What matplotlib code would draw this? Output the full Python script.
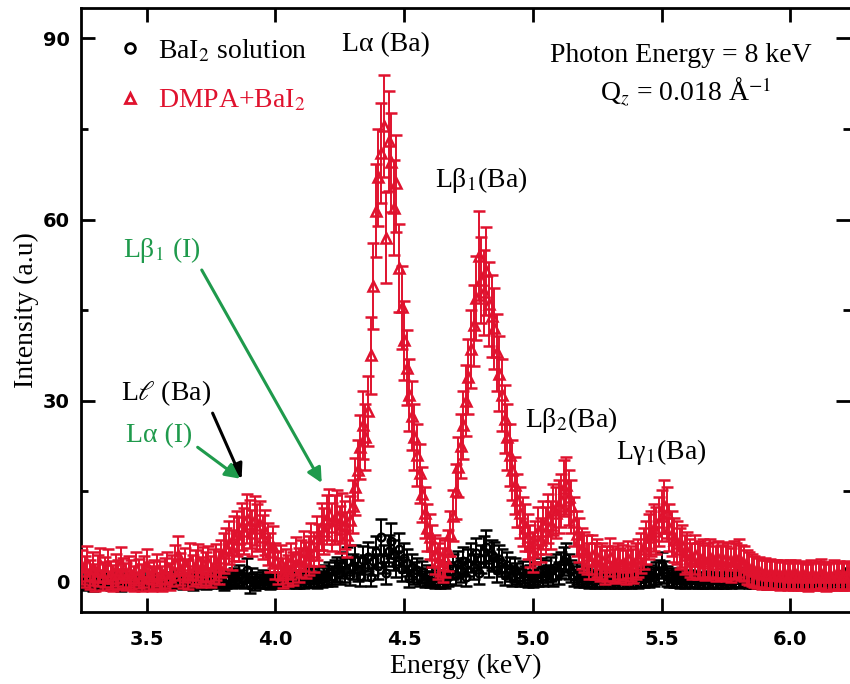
import matplotlib
matplotlib.use('Agg')
import matplotlib.pyplot as pl
from matplotlib.lines import Line2D
from matplotlib.ticker import MultipleLocator
import numpy as np

pl.rcParams['mathtext.fontset'] = 'stix'

# energy grid of the scan (keV), 0.01 keV step
energy = np.round(3.25 + 0.01 * np.arange(299), 2)

# DMPA+BaI2 (red triangles)
dmpa = [
    2.5, 1.8, 3.0, 1.2, 2.2, 0.8, 1.9, 2.8, 1.0, 1.6,
    2.6, 1.1, 0.7, 2.0, 1.3, 2.9, 1.5, 0.9, 1.8, 1.2,
    0.6, 2.2, 1.4, 0.8, 1.7, 2.6, 1.0, 0.5, 1.3, 2.0,
    1.1, 0.6, 1.5, 2.3, 0.9, 1.9, 3.2, 4.4, 2.1, 1.4,
    2.8, 1.2, 3.4, 1.9, 2.5, 3.3, 1.6, 2.9, 2.2, 3.1,
    1.8, 2.6, 3.3, 2.4, 3.9, 4.8, 5.6, 6.5, 5.3, 7.2,
    8.0, 7.1, 9.2, 8.4, 10.5, 9.6, 8.1, 10.2, 9.0, 9.5,
    7.4, 8.2, 6.3, 4.9, 5.8, 3.5, 2.4, 3.2, 1.5, 2.6,
    1.9, 3.4, 2.2, 4.3, 2.8, 3.9, 5.1, 3.6, 4.4, 6.2,
    5.0, 7.3, 6.1, 9.2, 8.4, 10.4, 11.2, 9.1, 10.3, 11.0,
    8.7, 10.6, 9.4, 7.8, 10.2, 12.5, 15.8, 18.6, 22.4, 26.0,
    24.0, 28.3, 37.5, 49.0, 61.5, 67.0, 71.0, 75.5, 57.0, 73.0,
    69.5, 62.0, 66.0, 52.0, 45.5, 40.0, 35.5, 31.0, 27.5, 24.0,
    21.0, 18.0, 14.5, 11.5, 9.0, 7.5, 6.0, 4.5, 3.5, 4.2,
    2.8, 3.9, 5.2, 8.0, 11.0, 15.0, 19.0, 22.5, 26.0, 30.0,
    34.0, 38.5, 42.5, 47.0, 54.0, 50.0, 48.0, 51.5, 46.0, 44.0,
    42.0, 38.0, 34.5, 31.0, 27.0, 24.0, 21.0, 18.5, 16.0, 13.5,
    11.5, 10.0, 9.0, 7.5, 6.0, 5.0, 6.5, 8.5, 7.0, 9.5,
    8.5, 10.5, 9.5, 12.0, 11.5, 12.5, 13.5, 15.5, 16.0, 14.0,
    12.5, 10.0, 8.0, 7.0, 5.5, 5.0, 4.5, 3.5, 4.5, 3.5,
    4.0, 3.0, 3.5, 2.5, 3.0, 4.2, 3.0, 2.6, 3.5, 2.8,
    3.2, 2.5, 3.8, 3.0, 2.6, 3.5, 4.0, 4.8, 5.5, 6.5,
    7.5, 8.0, 9.0, 8.5, 10.0, 11.0, 12.5, 11.5, 9.0, 8.0,
    7.0, 6.5, 5.5, 6.0, 4.5, 5.0, 4.0, 3.5, 4.5, 3.5,
    3.8, 4.0, 3.2, 3.5, 4.0, 3.6, 3.0, 3.8, 3.2, 3.6,
    3.0, 3.4, 2.8, 3.8, 3.5, 4.0, 3.2, 3.0, 2.5, 2.2,
    2.0, 1.8, 1.5, 1.6, 1.3, 1.5, 1.2, 1.4, 1.1, 1.3,
    1.2, 1.0, 1.3, 1.1, 0.9, 1.2, 1.0, 1.3, 1.0, 0.9,
    1.1, 1.0, 0.8, 1.2, 1.0, 0.9, 1.1, 1.4, 1.0, 0.8,
    1.0, 0.9, 1.2, 1.0, 1.1, 0.9, 1.0, 1.1, 1.0,
]

# BaI2 solution (black circles)
bai2 = [
    0.3, -0.2, 0.5, 0.1, -0.3, 0.4, 0.0, 0.2, -0.1, 0.3,
    0.1, -0.2, 0.4, 0.0, 0.2, -0.3, 0.1, 0.3, -0.1, 0.2,
    0.0, 0.3, -0.2, 0.1, 0.4, 0.0, -0.1, 0.2, 0.1, -0.2,
    0.3, 0.0, 0.2, -0.1, 0.1, 0.4, 0.0, 0.6, 0.2, -0.1,
    0.2, 0.0, 0.3, -0.2, 0.1, 0.5, 0.0, 0.2, -0.1, 0.3,
    0.1, 0.4, 0.0, 0.6, 0.2, -0.2, 0.3, 0.5, 0.1, 0.8,
    0.4, 1.2, 0.6, 0.3, 2.0, -0.5, 0.8, -0.2, 0.4, 0.2,
    0.6, 0.1, 0.3, -0.1, 0.2, 0.4, 0.0, 0.3, 0.1, 0.5,
    0.2, 0.0, 0.4, 0.1, 0.3, 0.6, 0.2, 0.5, 0.8, 0.4,
    0.7, 0.3, 0.9, 0.5, 1.2, 0.8, 1.5, 1.0, 1.8, 2.2,
    1.5, 2.8, 2.0, 3.5, 1.2, 2.5, 3.8, 2.2, 1.0, 3.6,
    2.4, 4.2, 0.8, 3.5, 5.0, 2.6, 7.5, 3.8, 1.5, 5.2,
    6.8, 4.5, 3.0, 5.5, 2.2, 4.0, 3.2, 0.6, 2.5, 1.5,
    2.0, 0.8, 1.6, 0.5, 1.2, 0.4, 0.9, 0.2, 0.6, 0.3,
    0.5, 0.2, 0.9, 1.5, 2.5, 1.2, 3.0, 2.0, 3.5, 0.8,
    3.2, 4.0, 2.5, 4.8, 1.5, 3.8, 5.0, 5.8, 3.0, 4.5,
    4.2, 2.0, 3.8, 3.2, 1.2, 2.8, 2.2, 1.0, 2.0, 1.4,
    0.8, 1.6, 1.0, 0.5, 1.2, 0.6, 1.5, 0.8, 2.0, 1.0,
    1.8, 1.2, 2.2, 0.8, 2.5, 1.5, 2.8, 3.5, 4.0, 2.5,
    1.8, 1.0, 1.4, 0.6, 1.0, 0.4, 0.8, 0.3, 0.6, 0.2,
    0.5, 0.3, 0.6, 0.2, 0.4, 0.1, 0.5, 0.3, 0.2, 0.4,
    0.1, 0.3, 0.5, 0.2, 0.4, 0.6, 0.3, 0.8, 0.5, 1.0,
    0.7, 1.2, 0.9, 1.5, 1.8, 2.8, 1.6, 1.0, 0.6, 0.8,
    0.4, 0.6, 0.3, 0.5, 0.2, 0.4, 0.6, 0.3, 0.5, 0.2,
    0.4, 0.1, 0.3, 0.5, 0.2, 0.4, 0.3, 0.1, 0.4, 0.2,
    0.3, 0.5, 0.2, 0.4, 0.6, 0.3, 0.5, 0.8, 0.4, 0.2,
    0.3, 0.1, 0.2, 0.0, 0.1, 0.2, -0.1, 0.1, 0.0, 0.2,
    0.1, -0.1, 0.0, 0.2, 0.1, 0.0, -0.1, 0.1, 0.2, 0.0,
    0.1, 0.0, 0.2, -0.1, 0.1, 0.0, 0.2, 0.1, 0.0, 0.1,
    0.2, 0.0, 0.1, 0.3, 0.2, 0.5, 1.5, 0.8, 0.4,
]

dmpa = np.array(dmpa)
bai2 = np.array(bai2)
# counting-statistics error bars
dmpa_err = 0.8 * np.sqrt(np.abs(dmpa)) + 1.5
bai2_err = 0.8 * np.sqrt(np.abs(bai2)) + 0.8

RED = '#e0122e'
GREEN = '#1f9a4c'
SERIF = ['Liberation Serif', 'DejaVu Serif']
FS = 20

fig = pl.figure(figsize=(8.5, 6.84), dpi=100)
ax = fig.add_axes([0.0953, 0.105, 0.905, 0.883])

ax.errorbar(energy, bai2, yerr=bai2_err, fmt='o', ms=5.5, mfc='none',
            mec='black', mew=1.8, ecolor='black', elinewidth=1.4,
            capsize=4, capthick=1.4, zorder=2)
ax.errorbar(energy, dmpa, yerr=dmpa_err, fmt='^', ms=6.5, mfc='none',
            mec=RED, mew=1.8, ecolor=RED, elinewidth=1.4,
            capsize=4.5, capthick=1.4, zorder=3)

ax.set_xlim(3.245, 6.233)
ax.set_ylim(-5, 95)
ax.xaxis.set_major_locator(MultipleLocator(0.5))
ax.yaxis.set_major_locator(MultipleLocator(30))
ax.yaxis.set_minor_locator(MultipleLocator(15))
ax.tick_params(which='both', direction='in', top=True, right=True, width=2)
ax.tick_params(which='major', length=10)
ax.tick_params(which='minor', length=5)
ax.tick_params(axis='x', pad=13)
ax.tick_params(axis='y', pad=8)
for lab in ax.get_xticklabels() + ax.get_yticklabels():
    lab.set_fontweight('bold')
    lab.set_fontsize(14)
ax.xaxis.set_major_formatter(pl.FuncFormatter(lambda v, p: '%.1f' % v))
for sp in ax.spines.values():
    sp.set_linewidth(2)
ax.spines['right'].set_visible(False)

ax.set_xlabel('Energy (keV)', family=SERIF, fontsize=FS, labelpad=3)
ax.set_ylabel('Intensity (a.u)', family=SERIF, fontsize=FS, labelpad=3)

handles = [Line2D([], [], marker='o', ls='none', mfc='none', mec='black',
                  mew=2, ms=7),
           Line2D([], [], marker='^', ls='none', mfc='none', mec=RED,
                  mew=2, ms=7)]
leg = ax.legend(handles, ['BaI$_2$ solution', 'DMPA+BaI$_2$'],
                loc='upper left', bbox_to_anchor=(0.031, 0.97),
                frameon=False, handlelength=1, handletextpad=0.5,
                labelspacing=0.86, borderaxespad=0,
                prop={'family': SERIF, 'size': FS},
                labelcolor=['black', RED])

ax.text(681 / 850, 1 - 55 / 684, 'Photon Energy = 8 keV', transform=fig.transFigure,
        ha='center', va='center', family=SERIF, fontsize=FS)
ax.text(686 / 850, 1 - 92 / 684, 'Q$_z$ = 0.018 Å$^{-1}$', transform=fig.transFigure,
        ha='center', va='center', family=SERIF, fontsize=FS)

ax.text(4.43, 89, 'Lα (Ba)', ha='center', va='center', family=SERIF, fontsize=FS)
ax.text(4.8, 66.5, 'Lβ$_1$(Ba)', ha='center', va='center', family=SERIF, fontsize=FS)
ax.text(5.15, 26.8, 'Lβ$_2$(Ba)', ha='center', va='center', family=SERIF, fontsize=FS)
ax.text(5.5, 21.5, 'Lγ$_1$(Ba)', ha='center', va='center', family=SERIF, fontsize=FS)

arrow = dict(arrowstyle='-|>', lw=2.2, mutation_scale=22, shrinkA=2, shrinkB=0)
ax.annotate('Lβ$_1$ (I)', xy=(4.18, 16.4), xytext=(3.56, 55.0),
            ha='center', va='center', family=SERIF, fontsize=FS, color=GREEN,
            arrowprops=dict(arrow, color=GREEN, relpos=(0.95, 0.1)))
ax.annotate('L$\\ell$ (Ba)', xy=(3.869, 17.1), xytext=(3.575, 31.3),
            ha='center', va='center', family=SERIF, fontsize=FS, color='black',
            arrowprops=dict(arrow, color='black', relpos=(0.97, 0.15)))
ax.annotate('Lα (I)', xy=(3.863, 17.1), xytext=(3.55, 24.2),
            ha='center', va='center', family=SERIF, fontsize=FS, color=GREEN,
            arrowprops=dict(arrow, color=GREEN, relpos=(0.97, 0.25)))

fig.savefig('out.png', dpi=100)
